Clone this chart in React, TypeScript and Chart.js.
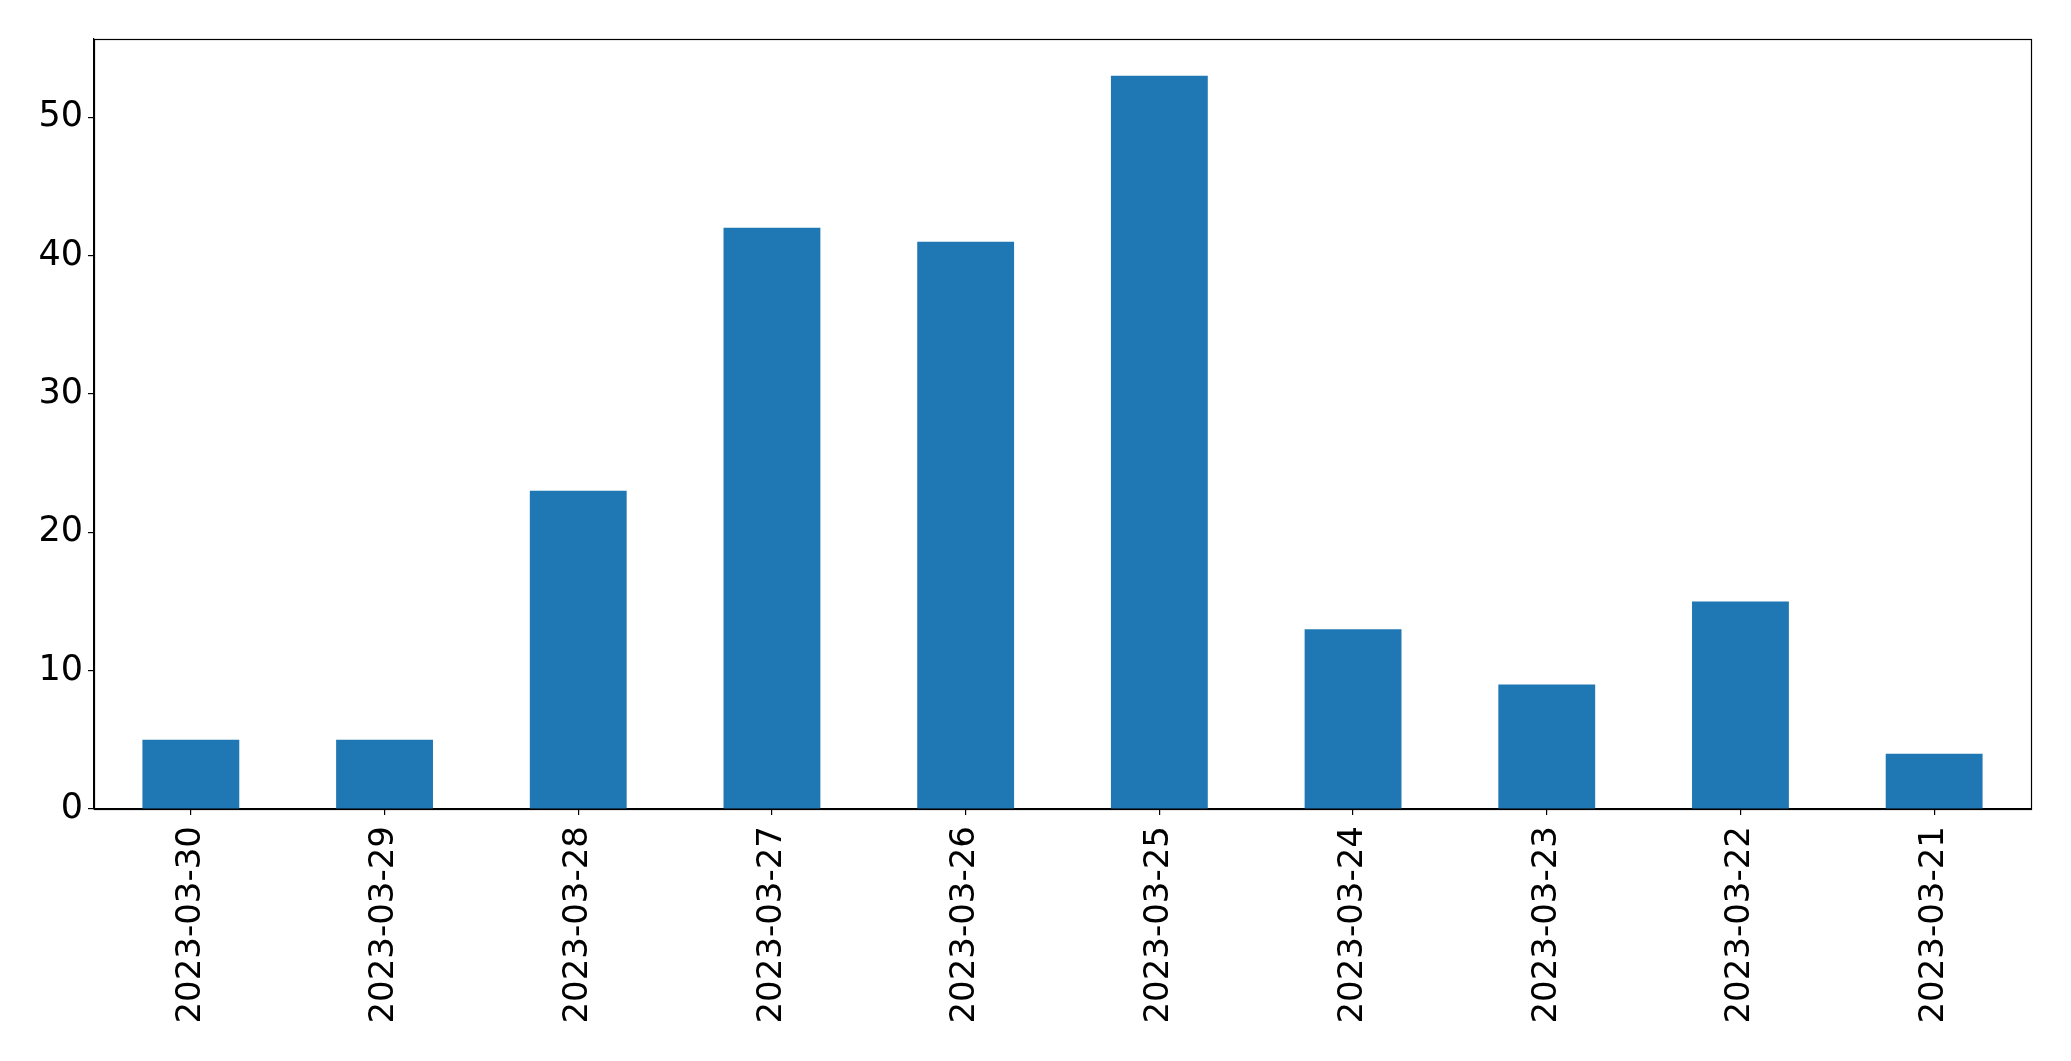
import React, { useEffect, useRef } from "react";
import { Chart, registerables } from "chart.js";

Chart.register(...registerables);

const categories = [
  "2023-03-30",
  "2023-03-29",
  "2023-03-28",
  "2023-03-27",
  "2023-03-26",
  "2023-03-25",
  "2023-03-24",
  "2023-03-23",
  "2023-03-22",
  "2023-03-21",
];
const counts = [5, 5, 23, 42, 41, 53, 13, 9, 15, 4];
const yTicks = [0, 10, 20, 30, 40, 50];
const yMax = 55.65;

const frame = {
  id: "frame",
  afterDatasetsDraw(chart: any) {
    const { ctx, chartArea } = chart;
    ctx.save();
    ctx.strokeStyle = "#000";
    ctx.lineWidth = 1.2;
    ctx.strokeRect(
      Math.round(chartArea.left) + 0.5,
      Math.round(chartArea.top) + 0.5,
      Math.round(chartArea.right - chartArea.left),
      Math.round(chartArea.bottom - chartArea.top)
    );
    ctx.restore();
  },
};

export default function App() {
  const ref = useRef<HTMLCanvasElement>(null);
  useEffect(() => {
    document.body.style.margin = "0";
    const chart = new Chart(ref.current!, {
      type: "bar",
      data: {
        labels: categories,
        datasets: [
          {
            data: counts,
            backgroundColor: "#1f77b4",
            borderWidth: 0,
            barPercentage: 0.5,
            categoryPercentage: 1,
          },
        ],
      },
      options: {
        animation: false,
        responsive: false,
        maintainAspectRatio: false,
        layout: { padding: { top: 39, right: 40, left: 0, bottom: 0 } },
        plugins: { legend: { display: false }, tooltip: { enabled: false } },
        scales: {
          x: {
            offset: true,
            grid: {
              offset: false,
              drawOnChartArea: false,
              drawTicks: true,
              tickLength: 6,
              color: "#000",
              lineWidth: 1.2,
            },
            border: { display: true, color: "#000", width: 1.2 },
            ticks: {
              color: "#000",
              font: { family: "DejaVu Sans", size: 34 },
              maxRotation: 90,
              minRotation: 90,
              padding: 11,
              autoSkip: false,
            },
            afterFit(scale: any) {
              scale.height = 252;
            },
          },
          y: {
            min: 0,
            max: yMax,
            grid: {
              drawOnChartArea: false,
              drawTicks: true,
              tickLength: 6,
              color: "#000",
              lineWidth: 1.2,
            },
            border: { display: true, color: "#000", width: 1.2 },
            ticks: {
              color: "#000",
              font: { family: "DejaVu Sans", size: 35 },
              padding: 5,
            },
            afterBuildTicks(scale: any) {
              scale.ticks = yTicks.map((v) => ({ value: v }));
            },
            afterFit(scale: any) {
              scale.width = 94;
            },
          },
        },
      },
      plugins: [frame],
    });
    return () => chart.destroy();
  }, []);
  return (
    <div style={{ position: "absolute", left: 0, top: 0, width: 2071, height: 1061, background: "#fff" }}>
      <canvas ref={ref} width={2071} height={1061} style={{ width: 2071, height: 1061 }} />
    </div>
  );
}
